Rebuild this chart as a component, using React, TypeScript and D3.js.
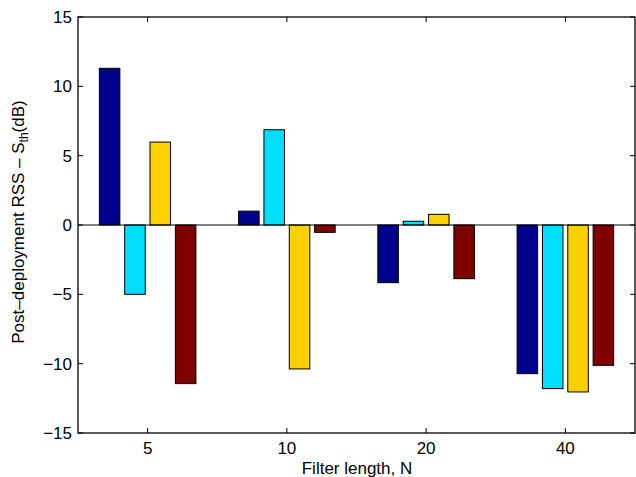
import React from "react";
import * as d3 from "d3";

const categories = ["5", "10", "20", "40"];
const seriesA = [11.3, 1.0, -4.16, -10.72];
const seriesB = [-5.0, 6.87, 0.27, -11.8];
const seriesC = [5.98, -10.38, 0.77, -12.04];
const seriesD = [-11.44, -0.53, -3.87, -10.12];
const series = [seriesA, seriesB, seriesC, seriesD];
const colors = ["#00008F", "#00DFFF", "#FFD000", "#800000"];
const yTicks = [-15, -10, -5, 0, 5, 10, 15];

export default function App() {
  const W = 636, H = 477;
  const left = 78, right = 635, top = 17, bottom = 433;
  const x = d3.scaleLinear().domain([0.5, 4.5]).range([left, right]);
  const y = d3.scaleLinear().domain([-15, 15]).range([bottom, top]);
  const step = 0.182;
  const bw = step * 0.81;
  const font = "Liberation Sans, Arial, Helvetica, sans-serif";
  const tl = 5;
  const fs = 17;
  return (
    <svg width={W} height={H} style={{ position: "absolute", left: 0, top: 0 }} fontFamily={font}>
      <rect x={0} y={0} width={W} height={H} fill="#fff" />
      {series.map((s, si) =>
        s.map((v, ci) => {
          const cx = ci + 1 + (si - 1.5) * step;
          const x0 = x(cx - bw / 2);
          const x1 = x(cx + bw / 2);
          const y0 = y(Math.max(0, v));
          const y1 = y(Math.min(0, v));
          return (
            <rect key={`${si}-${ci}`} x={x0} y={y0} width={x1 - x0} height={y1 - y0}
              fill={colors[si]} stroke="#000" strokeWidth={1} />
          );
        })
      )}
      <line x1={left} x2={right} y1={y(0)} y2={y(0)} stroke="#000" strokeWidth={1} />
      <rect x={left} y={top} width={right - left} height={bottom - top} fill="none" stroke="#000" strokeWidth={1.3} />
      {yTicks.map((t) => (
        <g key={t}>
          <line x1={left} x2={left + tl} y1={y(t)} y2={y(t)} stroke="#000" />
          <line x1={right} x2={right - tl} y1={y(t)} y2={y(t)} stroke="#000" />
          <text x={left - 6} y={y(t)} dy="0.36em" textAnchor="end" fontSize={fs}>
            {t < 0 ? "\u2212" + Math.abs(t) : t}
          </text>
        </g>
      ))}
      {categories.map((c, i) => (
        <g key={c}>
          <line x1={x(i + 1)} x2={x(i + 1)} y1={bottom} y2={bottom - tl} stroke="#000" />
          <line x1={x(i + 1)} x2={x(i + 1)} y1={top} y2={top + tl} stroke="#000" />
          <text x={x(i + 1)} y={454} textAnchor="middle" fontSize={fs}>{c}</text>
        </g>
      ))}
      <text x={357} y={474} textAnchor="middle" fontSize={fs}>Filter length, N</text>
      <text transform={`translate(24,222) rotate(-90)`} textAnchor="middle" fontSize={fs}>
        Post{"\u2013"}deployment RSS {"\u2013"} S<tspan fontSize={12} dy={4}>th</tspan><tspan dy={-4}>(dB)</tspan>
      </text>
    </svg>
  );
}
